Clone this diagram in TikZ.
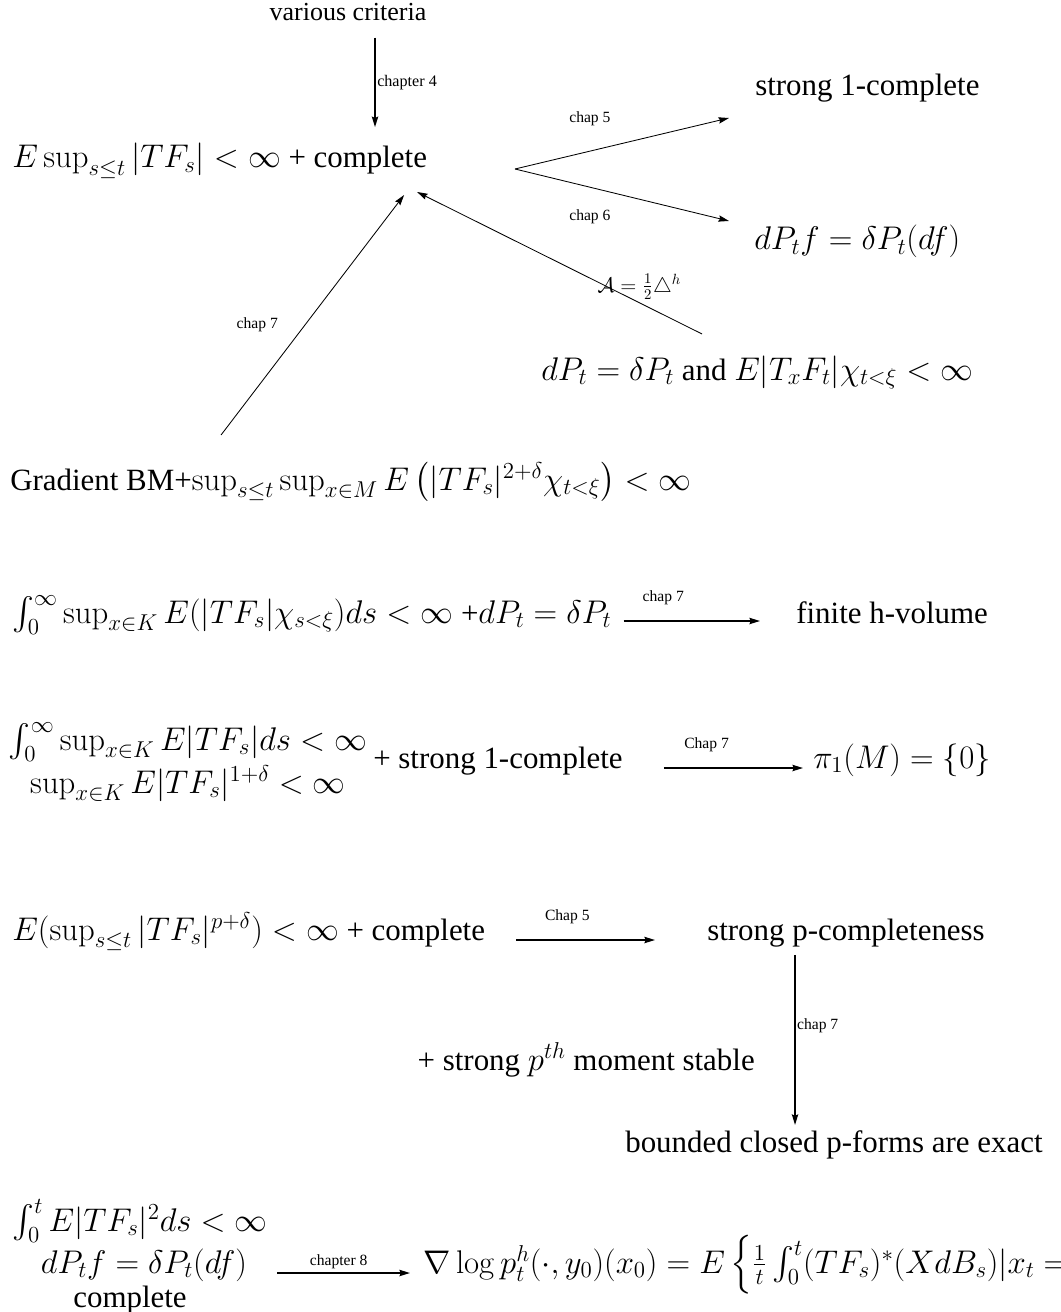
\RequirePackage{fix-cm}
\documentclass[tikz,border=0pt]{standalone}
\usepackage{amsmath, amssymb}
\usepackage[no-math]{fontspec}
\setmainfont{Liberation Serif}[Scale=0.944]
\usepackage{tikz}
\usetikzlibrary{arrows.meta, positioning}
\tikzset{
    stmt/.style={inner sep=0pt, font=\fontsize{23.3}{28}\selectfont},
    chaplabel/.style={inner sep=1pt, font=\fontsize{11.75}{14}\selectfont},
    line/.style={draw, -{Stealth[length=7.5pt, width=4.5pt, inset=1pt]}}
}

\begin{document}
\begin{tikzpicture}[
    x=0.025cm, y=-0.025cm,
    arrow/.style={line, line width=1.2pt},
    thinarrow/.style={line, line width=0.6pt}
]
    \useasboundingbox (0,0) rectangle (1060,1312);
    \clip (0,0) rectangle (1060,1312);

    % Top: criteria and the first statement
    \node[stmt, anchor=base, font=\fontsize{19.6}{24}\selectfont] (crit) at (348,21) {various criteria};
    \node[stmt, anchor=base west] (esup) at (12,168) {$E\sup_{s\leq t}|TF_s|<\infty$ + complete};
    \node[stmt, anchor=base west] (s1c) at (755,96) {strong 1-complete};
    \node[stmt, anchor=base west] (dpf) at (754,250) {$dP_tf=\delta P_t(df)$};
    \node[stmt, anchor=base west] (dpt) at (541,380) {$dP_t=\delta P_t$ and $E|T_xF_t|\chi_{t<\xi}<\infty$};
    \node[stmt, anchor=base west] (grad) at (10,490) {Gradient BM+$\sup_{s\leq t}\sup_{x\in M}E\left(|TF_s|^{2+\delta}\chi_{t<\xi}\right)<\infty$};
    \coordinate (fork) at (515,169);

    \draw[arrow, shorten <=0.4cm, shorten >=0.4cm] ([xshift=0.675cm]crit.south) -- node[chaplabel, right, font=\fontsize{12.15}{14}\selectfont] {chapter 4} ([xshift=0.675cm]crit.south |- esup.north);
    \draw[thinarrow] (fork) -- node[chaplabel, pos=0.35, yshift=0.8cm] {chap 5} ([xshift=-0.65cm, yshift=-0.55cm]s1c.base west);
    \draw[thinarrow] (fork) -- node[chaplabel, pos=0.35, yshift=-0.75cm] {chap 6} ([xshift=-0.625cm, yshift=0.725cm]dpf.base west);
    \draw[thinarrow] ([xshift=4.025cm, yshift=1.15cm]dpt.base west) -- node[chaplabel, pos=0.22, yshift=0.4cm, font=\fontsize{15}{17}\selectfont] {$\mathcal{A}=\frac{1}{2}\triangle^h$} ([xshift=10.125cm, yshift=-0.6cm]esup.base west);
    \draw[thinarrow] ([xshift=5.275cm, yshift=1.375cm]grad.base west) -- node[chaplabel, pos=0.46, xshift=-1.2cm] {chap 7} ([xshift=9.8cm, yshift=-0.675cm]esup.base west);

    % h-volume
    \node[stmt, anchor=base west] (vol) at (12,623) {$\int_0^\infty\sup_{x\in K}E(|TF_s|\chi_{s<\xi})ds<\infty$ +$dP_t=\delta P_t$};
    \node[stmt, anchor=base west] (hvol) at (796,623) {finite h-volume};
    \draw[arrow, shorten <=0.3cm, shorten >=0.9cm] ([yshift=0.05cm]vol.base east) -- node[chaplabel, pos=0.28, anchor=base, yshift=0.475cm] {chap 7} ([yshift=0.05cm]hvol.base west);

    % Fundamental group
    \node[stmt, anchor=base] (lone) at (188,750) {$\int_0^\infty\sup_{x\in K}E|TF_s|ds<\infty$};
    \node[stmt, anchor=base] (ltwo) at (188,793) {$\sup_{x\in K}E|TF_s|^{1+\delta}<\infty$};
    \node[stmt, anchor=base west] (lplus) at (373,768) {+ strong 1-complete};
    \node[stmt, anchor=base west] (pione) at (813,768) {$\pi_1(M)=\{0\}$};
    \draw[arrow, shorten <=1.025cm, shorten >=0.25cm] (lplus.base east) -- node[chaplabel, pos=0.44, anchor=base, yshift=0.5cm] {Chap 7} (pione.base west);

    % p-forms
    \node[stmt, anchor=base west] (pmom) at (12,940) {$E(\sup_{s\leq t}|TF_s|^{p+\delta})<\infty$ + complete};
    \node[stmt, anchor=base west] (spc) at (707,940) {strong p-completeness};
    \node[stmt, anchor=base east] (stable) at (755,1070) {+ strong $p^{th}$ moment stable};
    \node[stmt, anchor=base west] (exact) at (625,1152) {bounded closed p-forms are exact};
    \draw[arrow, shorten <=0.775cm, shorten >=1.3cm] (pmom.base east) -- node[chaplabel, pos=0.37, anchor=base, yshift=0.5cm] {Chap 5} (spc.base west);
    \draw[arrow, line width=1pt, shorten <=0.2cm, shorten >=0.125cm] ([xshift=2.2cm]spc.south west) -- node[chaplabel, pos=0.43, right] {chap 7} ([xshift=2.2cm]spc.south west |- exact.north);

    % Heat kernel formula
    \node[stmt, anchor=base] (bone) at (140,1231) {$\int_0^tE|TF_s|^2ds<\infty$};
    \node[stmt, anchor=base] (btwo) at (144,1273) {$dP_tf=\delta P_t(df)$};
    \node[stmt, anchor=base] (bthree) at (130,1307) {complete};
    \node[stmt, anchor=base west] (grad8) at (423,1273) {$\nabla\log p_t^h(\cdot,y_0)(x_0)=E\left\{\frac{1}{t}\int_0^t(TF_s)^*(XdB_s)|x_t=y_0\right\}$};
    \draw[arrow, shorten <=0.75cm, shorten >=0.325cm] (btwo.base east |- grad8.base west) -- node[chaplabel, pos=0.52, anchor=base, yshift=0.2cm] {chapter 8} (grad8.base west);

\end{tikzpicture}
\end{document}
